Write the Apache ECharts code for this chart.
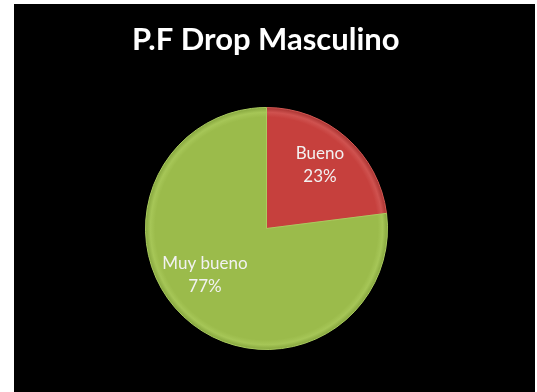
<!DOCTYPE html>
<html>
<head>
<meta charset="utf-8">
<script src="https://cdn.jsdelivr.net/npm/echarts@6/dist/echarts.min.js"></script>
<style>
  html, body { margin: 0; padding: 0; background: #ffffff; }
  #chart { position: absolute; left: 14px; top: 4px; width: 521px; height: 388px; }
</style>
</head>
<body>
<div id="chart"></div>
<script>
// Survey result: share of ratings
const titleText = 'P.F Drop Masculino';
const categories = ['Bueno', 'Muy bueno'];
const values = [23, 77];

const CX = 252.5, CY = 224.5, R = 121;

function shaded(base, rim, light) {
  return {
    type: 'radial', x: CX, y: CY, r: R, global: true,
    colorStops: [
      { offset: 0, color: base },
      { offset: 0.92, color: base },
      { offset: 0.96, color: light },
      { offset: 1, color: rim }
    ]
  };
}
const fills = [
  shaded('#c6403d', '#a83331', '#cf524f'),
  shaded('#9bbb4b', '#86a63e', '#a6c657')
];
const borders = ['#d25853', '#aacb5e'];

// label nudges from the default inside position
const nudges = [[11.5, -15.5], [-19.5, -1]];

const chart = echarts.init(document.getElementById('chart'));
chart.setOption({
  backgroundColor: '#000000',
  animation: false,
  title: {
    text: titleText,
    left: 113,
    top: 15,
    textStyle: { color: '#ffffff', fontFamily: 'Lato', fontWeight: 'bold', fontSize: 31 }
  },
  series: [{
    type: 'pie',
    center: [CX, CY],
    radius: R,
    startAngle: 90,
    clockwise: true,
    data: categories.map((name, i) => ({
      name, value: values[i],
      itemStyle: { color: fills[i], borderColor: borders[i], borderWidth: 1 }
    })),
    label: {
      position: 'inside',
      formatter: p => p.name + '\n' + p.value + '%',
      color: '#f2f2f2',
      fontFamily: 'Lato',
      fontSize: 17,
      lineHeight: 23,
      align: 'center'
    },
    labelLayout: p => ({ dx: nudges[p.dataIndex][0], dy: nudges[p.dataIndex][1] }),
    emphasis: { disabled: true }
  }]
});
</script>
</body>
</html>
